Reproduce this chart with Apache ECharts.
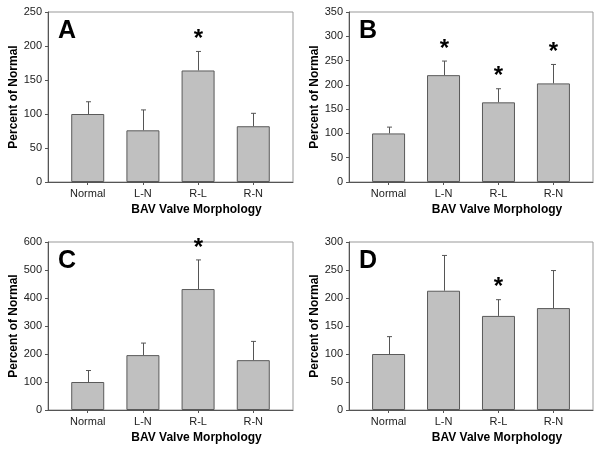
<!DOCTYPE html>
<html>
<head>
<meta charset="utf-8">
<script src="https://cdn.jsdelivr.net/npm/echarts@6/dist/echarts.min.js"></script>
<style>
  html, body { margin: 0; padding: 0; background: #fff; }
  #main { width: 603px; height: 457px; }
</style>
</head>
<body>
<div id="main"></div>
<script>
// categories on x
var categories = ['Normal', 'L-N', 'R-L', 'R-N'];

// panel A
var meanA = [100, 76, 164, 82];
var errA = [18, 30, 28, 19];
var starA = [false, false, true, false];
// panel B
var meanB = [100, 220, 164, 203];
var errB = [13, 29, 28, 39];
var starB = [false, true, true, true];
// panel C
var meanC = [100, 196, 432, 178];
var errC = [41, 43, 104, 67];
var starC = [false, false, true, false];
// panel D
var meanD = [100, 213, 168, 182];
var errD = [31, 63, 29, 67];
var starD = [false, false, true, false];

var yMax = [250, 350, 600, 300];
var yStep = [50, 50, 100, 50];
var letters = ['A', 'B', 'C', 'D'];

var means = [meanA, meanB, meanC, meanD];
var errs = [errA, errB, errC, errD];
var stars = [starA, starB, starC, starD];

var grids = [
    {left: 48, top: 12, width: 245, height: 170},
    {left: 349, top: 12, width: 244, height: 170},
    {left: 48, top: 242, width: 245, height: 168},
    {left: 349, top: 242, width: 244, height: 168}
];

var font = 'Liberation Sans, Arial, sans-serif';
var option = {
    backgroundColor: '#fff',
    animation: false,
    title: [],
    grid: [],
    xAxis: [],
    yAxis: [],
    series: []
};

for (var p = 0; p < 4; p++) {
    var g = grids[p];
    option.grid.push({
        left: g.left, top: g.top, width: g.width, height: g.height,
        show: true, borderColor: '#999', borderWidth: 1,
        backgroundColor: 'transparent',
        outerBoundsMode: 'none'
    });
    option.title.push({
        text: letters[p],
        left: g.left + 5,
        top: g.top + 2,
        textStyle: {fontFamily: font, fontSize: 25, fontWeight: 'bold', color: '#000'}
    });
    option.xAxis.push({
        type: 'value',
        gridIndex: p,
        min: -0.72,
        max: 3.72,
        splitLine: {show: false},
        axisLine: {show: true, onZero: false, lineStyle: {color: '#555', width: 1}},
        axisTick: {show: true, length: 3, customValues: [0, 1, 2, 3], lineStyle: {color: '#555'}},
        axisLabel: {
            customValues: [0, 1, 2, 3],
            margin: 6,
            fontFamily: font, fontSize: 11, color: '#222',
            formatter: function (v) { return categories[Math.round(v)]; }
        },
        name: 'BAV Valve Morphology',
        nameLocation: 'middle',
        nameGap: 22,
        nameTextStyle: {fontFamily: font, fontSize: 12, fontWeight: 'bold', color: '#000', padding: [0, 0, 0, 52]}
    });
    option.yAxis.push({
        type: 'value',
        gridIndex: p,
        min: 0,
        max: yMax[p],
        interval: yStep[p],
        splitLine: {show: false},
        axisLine: {show: true, onZero: false, lineStyle: {color: '#555', width: 1}},
        axisTick: {show: true, length: 3, lineStyle: {color: '#555'}},
        axisLabel: {margin: 6, fontFamily: font, fontSize: 11, color: '#222'},
        name: 'Percent of Normal',
        nameLocation: 'middle',
        nameGap: 27,
        nameTextStyle: {fontFamily: font, fontSize: 12, fontWeight: 'bold', color: '#000'}
    });
    option.series.push({
        type: 'bar',
        xAxisIndex: p,
        yAxisIndex: p,
        barWidth: 33,
        itemStyle: {color: '#c0c0c0', borderColor: '#5a5a5a', borderWidth: 1},
        data: means[p].map(function (v, i) { return [i, v]; })
    });
    option.series.push({
        type: 'custom',
        xAxisIndex: p,
        yAxisIndex: p,
        data: means[p].map(function (v, i) { return [i, v, v + errs[p][i], stars[p][i] ? 1 : 0]; }),
        renderItem: function (params, api) {
            var base = api.coord([api.value(0), api.value(1)]);
            var top = api.coord([api.value(0), api.value(2)]);
            var x = Math.round(base[0]) + 0.5;
            var children = [
                {type: 'line', shape: {x1: x, y1: base[1], x2: x, y2: top[1]}, style: {stroke: '#555', lineWidth: 1}},
                {type: 'line', shape: {x1: x - 2.5, y1: top[1], x2: x + 2.5, y2: top[1]}, style: {stroke: '#555', lineWidth: 1}}
            ];
            if (api.value(3)) {
                children.push({
                    type: 'text',
                    style: {
                        text: '*', x: x, y: top[1] - 12,
                        align: 'center', verticalAlign: 'middle',
                        font: 'bold 24px ' + font, fill: '#000'
                    }
                });
            }
            return {type: 'group', children: children};
        }
    });
}

var myChart = echarts.init(document.getElementById('main'), null, {renderer: 'canvas'});
myChart.setOption(option);
</script>
</body>
</html>
